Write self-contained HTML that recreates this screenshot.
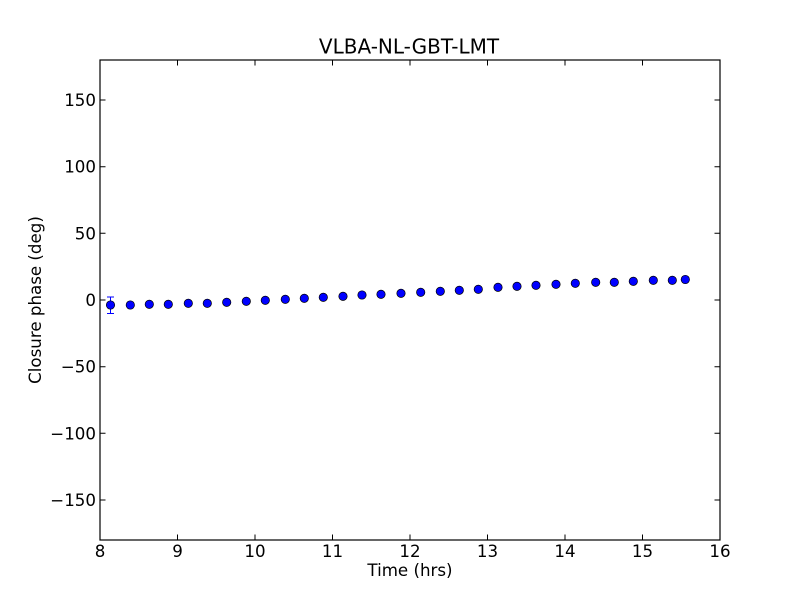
<!DOCTYPE html>
<html><head><meta charset="utf-8"><style>html,body{margin:0;padding:0;background:#fff}svg{display:block}</style></head>
<body>
<svg width="800" height="600" viewBox="0 0 800 600" xmlns="http://www.w3.org/2000/svg" font-family="DejaVu Sans, Liberation Sans, sans-serif">
<rect width="800" height="600" fill="#fff"/>
<g stroke="#000" stroke-width="1">
<!-- x ticks bottom & top -->
<path d="M177.5,540v-5.5M255,540v-5.5M332.5,540v-5.5M410,540v-5.5M487.5,540v-5.5M565,540v-5.5M642.5,540v-5.5
M177.5,60v5.5M255,60v5.5M332.5,60v5.5M410,60v5.5M487.5,60v5.5M565,60v5.5M642.5,60v5.5
M100,100h5.5M100,166.7h5.5M100,233.3h5.5M100,300h5.5M100,366.7h5.5M100,433.3h5.5M100,500h5.5
M720,100h-5.5M720,166.7h-5.5M720,233.3h-5.5M720,300h-5.5M720,366.7h-5.5M720,433.3h-5.5M720,500h-5.5" fill="none"/>
</g>
<!-- error bar first point -->
<g stroke="#0000ff" stroke-width="1" fill="none">
<path d="M110.5,297V313.5M107,297H114M107,313.5H114"/>
</g>
<g fill="#0000ff" stroke="#000" stroke-width="0.7">
<circle cx="110.5" cy="305" r="4.2"/>
<circle cx="130.3" cy="305" r="4.2"/>
<circle cx="149.3" cy="304.3" r="4.2"/>
<circle cx="168.3" cy="304.3" r="4.2"/>
<circle cx="188.3" cy="303.3" r="4.2"/>
<circle cx="207.3" cy="303.3" r="4.2"/>
<circle cx="226.7" cy="302.3" r="4.2"/>
<circle cx="246.3" cy="301.3" r="4.2"/>
<circle cx="265.3" cy="300.3" r="4.2"/>
<circle cx="285.3" cy="299.3" r="4.2"/>
<circle cx="304.3" cy="298.3" r="4.2"/>
<circle cx="323.3" cy="297.3" r="4.2"/>
<circle cx="343" cy="296.3" r="4.2"/>
<circle cx="362" cy="295" r="4.2"/>
<circle cx="381" cy="294.3" r="4.2"/>
<circle cx="401" cy="293.3" r="4.2"/>
<circle cx="420.7" cy="292.3" r="4.2"/>
<circle cx="440.3" cy="291.3" r="4.2"/>
<circle cx="459.3" cy="290.3" r="4.2"/>
<circle cx="478.3" cy="289.3" r="4.2"/>
<circle cx="498" cy="287.3" r="4.2"/>
<circle cx="517" cy="286.3" r="4.2"/>
<circle cx="536" cy="285.3" r="4.2"/>
<circle cx="556" cy="284.3" r="4.2"/>
<circle cx="575.3" cy="283.3" r="4.2"/>
<circle cx="595.7" cy="282.3" r="4.2"/>
<circle cx="614.3" cy="282.3" r="4.2"/>
<circle cx="633.3" cy="281.3" r="4.2"/>
<circle cx="653.3" cy="280.3" r="4.2"/>
<circle cx="672.3" cy="280.3" r="4.2"/>
<circle cx="685.3" cy="279.5" r="4.2"/>
</g>
<rect x="100" y="60" width="620" height="480" fill="none" stroke="#000" stroke-width="1.2"/>
<g font-size="16.67" fill="#000">
<g text-anchor="middle">
<text x="100" y="557">8</text>
<text x="177.5" y="557">9</text>
<text x="255" y="557">10</text>
<text x="332.5" y="557">11</text>
<text x="410" y="557">12</text>
<text x="487.5" y="557">13</text>
<text x="565" y="557">14</text>
<text x="642.5" y="557">15</text>
<text x="720" y="557">16</text>
</g>
<g text-anchor="end">
<text x="96" y="106">150</text>
<text x="96" y="172.7">100</text>
<text x="96" y="239.3">50</text>
<text x="96" y="306">0</text>
<text x="96" y="372.7">−50</text>
<text x="96" y="439.3">−100</text>
<text x="96" y="506">−150</text>
</g>
<text x="410" y="576" text-anchor="middle">Time (hrs)</text>
<text transform="translate(41,300) rotate(-90)" text-anchor="middle">Closure phase (deg)</text>
</g>
<text x="409" y="53.3" text-anchor="middle" font-size="20">VLBA-NL-GBT-LMT</text>
</svg>
</body></html>
